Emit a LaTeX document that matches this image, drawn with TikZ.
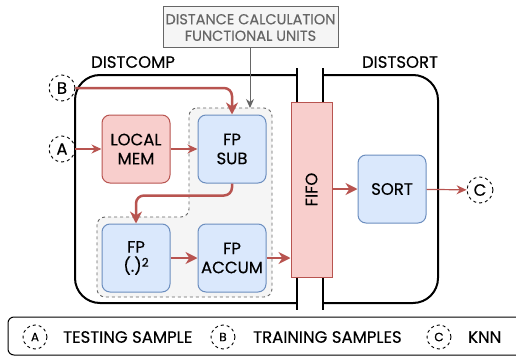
\documentclass[tikz,border=0pt]{standalone}
\usepackage{fontspec}
\setmainfont{Poppins}[FakeBold=0.3]
\usetikzlibrary{arrows.meta,positioning}
\definecolor{redf}{HTML}{F8CECC}
\definecolor{redd}{HTML}{B85450}
\definecolor{bluef}{HTML}{DAE8FC}
\definecolor{blued}{HTML}{6C8EBF}
\definecolor{grayf}{HTML}{F5F5F5}
\definecolor{grayd}{HTML}{666666}
\begin{document}
\begin{tikzpicture}[x=1pt, y=1pt, >=Stealth, font=\fontsize{16.5}{19}\selectfont,
	   u/.style={draw=blued, fill=bluef, line width=1pt, rounded corners=8pt, align=center,
	     minimum width=68pt, minimum height=68pt, inner sep=0pt},
	   r/.style={u, draw=redd, fill=redf},
	   io/.style={draw, dashed, circle, minimum size=26pt, inner sep=0pt, line width=0.9pt},
	   wall/.style={line width=2pt},
	   big/.style={->, draw=redd, line width=2.5pt, rounded corners=8pt, {-Stealth[length=12pt,width=12pt]}},
	   thin/.style={->, draw=redd, line width=1.2pt, {-Stealth[length=10pt,width=9pt]}}]
	  \useasboundingbox (0,0) rectangle (516,357);
	  % outer blocks
	  \draw[wall, rounded corners=25pt] (297,282) -- (75,282) -- (75,54) -- (297,54);
	  \draw[wall, rounded corners=25pt] (323,282) -- (438,282) -- (438,54) -- (323,54);
	  \draw[wall] (297,289) -- (297,47);
	  \draw[wall] (323,289) -- (323,47);
	  \node (dc) at (133,295) {DISTCOMP};
	  \node (ds) at (400,295) {DISTSORT};
	  % functional units group
	  \draw[draw=grayd, fill=grayf, dashed, line width=0.9pt, rounded corners=8pt]
	    (189,249) -- (272,249) -- (272,60) -- (97,60) -- (97,140) -- (189,140) -- cycle;
	  \coordinate (gtop) at (250,249);
	  \node[draw=grayd, fill=grayf, text=grayd, line width=1pt, align=center, minimum width=175pt,
	    minimum height=41pt, inner sep=0pt, font=\fontsize{14.5}{16.5}\selectfont] (fu) at (250.5,329.5)
	    {DISTANCE CALCULATION\\FUNCTIONAL UNITS};
	  \node[r] (lm) at (136,208) {LOCAL\\MEM};
	  \node[u, right=27pt of lm] (sub) {FP\\SUB};
	  \node[u, below=40pt of lm] (sq) {FP\\(.)\raisebox{5pt}{\fontsize{12}{14}\selectfont 2}};
	  \node[u, right=27pt of sq] (acc) {FP\\ACCUM};
	  \node[r, minimum width=41pt, minimum height=175pt, rounded corners=0pt] (fifo) at (311.5,167.5)
	    {\rotatebox{90}{FIFO}};
	  \node[u] (sort) at (392,168) {SORT};
	  \node[io] (a) at (62,208) {A};
	  \node[io] (b) at (62,269) {B};
	  \node[io] (c) at (480,167) {C};
	  \draw[->, draw=grayd, line width=1pt, {-Stealth[length=9pt,width=8pt]}] (fu.south -| gtop) -- (gtop);
	  \draw[thin] (a) -- (lm);
	  \draw[thin] (lm) -- (sub);
	  \draw[big] (b.east) -- (b.east -| sub) -- (sub.north);
	  \draw[big] (sub.south) -- ++(0,-12) -| (sq.north);
	  \draw[big] (sq) -- (acc);
	  \draw[big] (acc) -- (fifo.west |- acc);
	  \draw[big] (fifo.east |- sort) -- (sort);
	  \draw[thin] (sort) -- (c);
	  % legend
	  \draw[line width=1pt, rounded corners=6pt] (540,40) -- (8,40) -- (8,2) -- (540,2);
	  \node[io, font=\fontsize{12}{14}\selectfont, minimum size=24pt] (la) at (35,20) {A};
	  \node[anchor=west, inner sep=0pt] (lta) at (63,20) {TESTING SAMPLE};
	  \node[io, font=\fontsize{12}{14}\selectfont, minimum size=24pt] (lb) at (223,20) {B};
	  \node[anchor=west, inner sep=0pt] (ltb) at (253,20) {TRAINING SAMPLES};
	  \node[io, font=\fontsize{12}{14}\selectfont, minimum size=24pt] (lc) at (439,20) {C};
	  \node[anchor=west, inner sep=0pt] (ltc) at (468,20) {KNN};
	\end{tikzpicture}
\end{document}
